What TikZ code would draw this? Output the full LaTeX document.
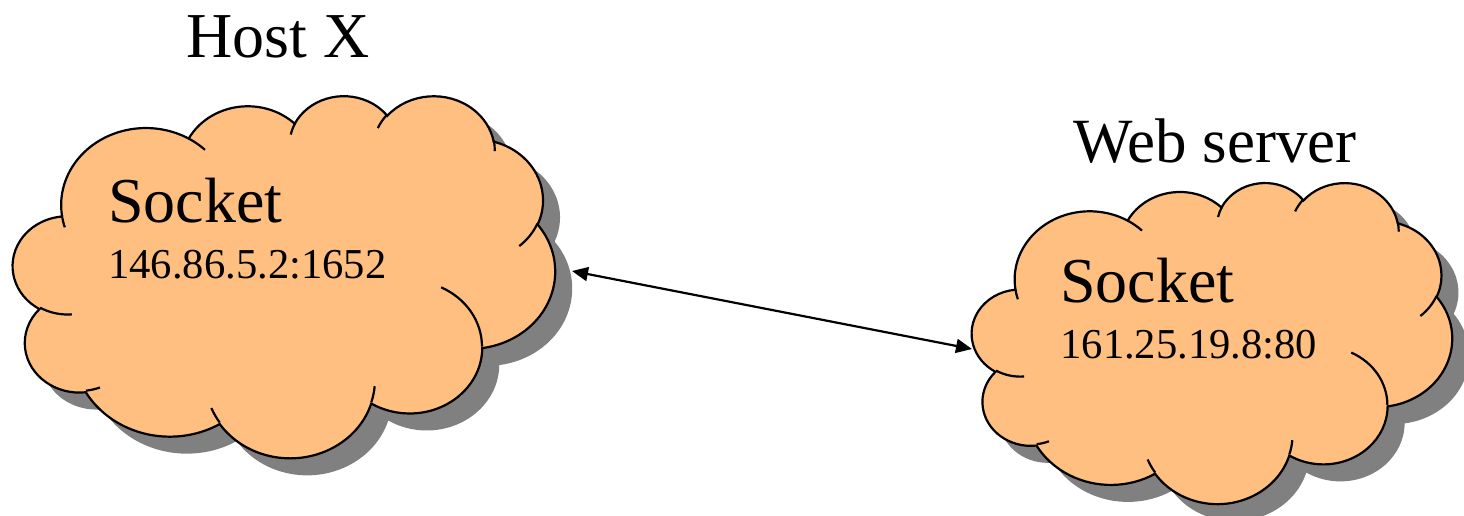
\documentclass[tikz,border=0pt]{standalone}
\usepackage{fontspec}
\setmainfont{Liberation Serif}
\usetikzlibrary{arrows.meta}

\definecolor{cloudfill}{RGB}{255,191,128}
\definecolor{cloudshade}{RGB}{128,128,128}

% visual angle -> ellipse parameter angle
\tikzset{declare function={pang(\q,\rw,\rh)=\q+asin(sin(atan2(\rw*sin(\q),\rh*cos(\q))-\q));}}

% one puff: radii, start angle, sweep
\newcommand\puff[4]{arc[x radius=#1, y radius=#2, start angle={pang(#3,#1,#2)}, end angle={pang(#3+#4,#1,#2)}]}

% cloud outline in a 432 x 432 box
\newcommand\cloudline{(39.00,143.70) \puff{67.53}{91.90}{-190.4875}{123.7805}
  \puff{53.33}{72.67}{-144.1024}{89.9452} \puff{43.65}{59.45}{-145.8079}{99.7230}
  \puff{48.57}{65.95}{-130.9861}{117.2417} \puff{53.33}{72.73}{-78.7089}{109.0269}
  \puff{67.75}{92.20}{-46.2673}{130.2690} \puff{57.85}{78.67}{0.6250}{114.0333}
  \puff{67.52}{92.15}{22.4516}{115.1726} \puff{77.20}{105.43}{66.2426}{75.7110}
  \puff{43.60}{59.18}{-274.9421}{146.7356} \puff{43.45}{59.45}{-246.8285}{152.5189} -- cycle}

% the short inner strokes
\newcommand\cloudcreases{(46.93,261.77) \puff{43.45}{59.45}{86.7420}{26.4295}
  (69.28,348.99) \puff{43.60}{59.18}{73.6105}{11.4475}
  (164.78,390.90) \puff{67.52}{92.15}{137.6242}{14.0811}
  (288.27,347.51) \puff{67.52}{92.15}{6.4533}{15.9984}
  (341.29,229.54) \puff{57.85}{78.67}{-70.2924}{70.2924}
  (417.98,153.54) \puff{53.33}{72.73}{30.3180}{27.7515}
  (383.24,54.26) \puff{48.57}{65.95}{-13.7443}{14.8589}
  (290.78,39.52) \puff{48.57}{65.95}{-149.1815}{18.1954}
  (221.41,47.20) \puff{43.65}{59.45}{-163.4943}{17.6864}
  (140.00,51.92) \puff{67.53}{91.90}{-66.7070}{12.3194}
  (41.27,157.89) \puff{67.53}{91.90}{157.6544}{11.8582}}

% cloud with shadow: left, top, x unit, y unit
\newcommand\drawcloud[4]{%
  \begin{scope}[shift={(#1+17,#2+17)},x=#3,y=-#4]
    \fill[cloudshade] \cloudline;
  \end{scope}
  \begin{scope}[shift={(#1,#2)},x=#3,y=-#4]
    \filldraw[fill=cloudfill, draw=black, line width=1.1pt] \cloudline;
    \draw[line width=1.1pt] \cloudcreases;
  \end{scope}}

\begin{document}
\begin{tikzpicture}[x=0.5pt,y=-0.5pt]
\useasboundingbox (0,0) rectangle (1464,515);
\drawcloud{13}{95}{0.6273pt}{0.4190pt}
\drawcloud{972}{182}{0.5556pt}{0.3715pt}
\node[anchor=base west, inner sep=0pt, font=\fontsize{32}{38}\selectfont] (hostname) at (186,57) {Host X};
\node[anchor=base west, inner sep=0pt, font=\fontsize{31.5}{38}\selectfont] (srvname) at (1073,162) {Web server};
\node[anchor=base west, inner sep=0pt, font=\fontsize{32}{38}\selectfont] (hostsock) at (108,222) {Socket};
\node[anchor=base west, inner sep=0pt, font=\fontsize{21.3}{24}\selectfont] (hostaddr) at (108,278) {146.86.5.2:1652};
\node[anchor=base west, inner sep=0pt, font=\fontsize{32}{38}\selectfont] (srvsock) at (1060,302) {Socket};
\node[anchor=base west, inner sep=0pt, font=\fontsize{21.3}{24}\selectfont] (srvaddr) at (1060,358) {161.25.19.8:80};
\coordinate (hostend) at (572,271);
\coordinate (srvend) at (972,349);
\draw[line width=1.1pt, {Triangle[length=8pt,width=7pt]}-{Triangle[length=8pt,width=7pt]}] (hostend) -- (srvend);
\end{tikzpicture}
\end{document}
